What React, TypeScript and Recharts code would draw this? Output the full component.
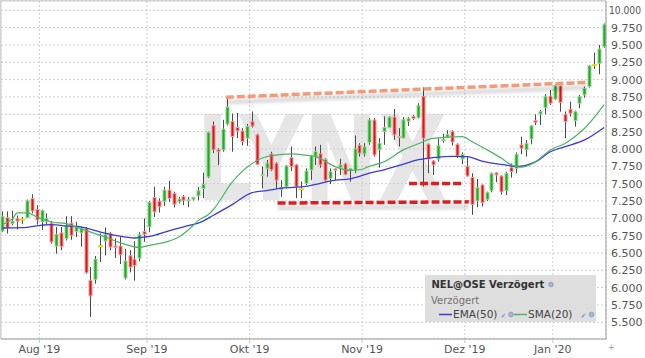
import { ComposedChart, Bar, Line, XAxis, YAxis, CartesianGrid, ReferenceLine } from 'recharts';

// daily candles, index 0 = 22 Jul 2019
const opens = [
	6.817, 7.01, 6.923, 6.995, 6.98, 7.01, 7.284, 7.13, 6.95, 6.957,
	6.93, 6.6, 6.79, 6.707, 6.93, 6.81, 6.79, 6.85, 6.106, 6.12,
	6.596, 6.673, 6.78, 6.6, 6.6, 6.14, 6.46, 6.41, 6.426, 6.81,
	6.876, 7.3, 7.247, 7.247, 7.407, 7.36, 7.238, 7.31, 7.257, 7.276,
	7.325, 7.43, 7.6, 8.34, 7.99, 7.987, 8.36, 8.397, 8.31, 8.26,
	8.156, 8.397, 8.204, 7.62, 7.72, 7.93, 7.794, 7.417, 7.455, 7.875,
	7.77, 7.42, 7.503, 7.697, 7.89, 7.93, 7.85, 7.576, 7.712, 7.73,
	7.784, 7.687, 7.683, 8.054, 7.93, 8.093, 8.417, 7.996, 8.253, 8.31,
	8.46, 8.18, 8.16, 8.4, 8.47, 8.45, 8.754, 8.07, 7.826, 7.855,
	8.12, 8.17, 8.25, 8.067, 7.855, 7.75, 7.59, 7.25, 7.48, 7.274,
	7.398, 7.655, 7.61, 7.4, 7.73, 7.72, 8.058, 7.99, 8.144, 8.413,
	8.505, 8.596, 8.764, 8.72, 8.91, 8.5, 8.572, 8.409, 8.66, 8.779,
	8.899, 9.21, 9.236, 9.476,
];
const highs = [
	7.1, 7.1, 7.11, 7.04, 7.02, 7.27, 7.346, 7.19, 7.125, 7.07,
	6.96, 6.875, 6.875, 7.03, 7.03, 6.95, 6.875, 6.875, 6.298, 6.457,
	6.78, 6.867, 6.8, 6.71, 6.73, 6.56, 6.54, 6.67, 6.8, 7.0,
	7.247, 7.455, 7.286, 7.455, 7.54, 7.383, 7.31, 7.335, 7.306, 7.31,
	7.455, 7.66, 8.25, 8.397, 8.01, 8.42, 8.735, 8.51, 8.52, 8.3,
	8.36, 8.54, 8.22, 7.745, 7.84, 7.96, 7.81, 7.55, 7.77, 8.035,
	7.78, 7.53, 7.72, 7.914, 8.035, 8.06, 7.866, 7.72, 7.72, 7.856,
	7.8, 7.72, 8.194, 8.083, 8.083, 8.446, 8.446, 8.156, 8.47, 8.47,
	8.576, 8.3, 8.46, 8.46, 8.49, 8.66, 8.89, 8.08, 7.84, 8.154,
	8.22, 8.27, 8.27, 8.08, 7.95, 7.88, 7.65, 7.567, 7.49, 7.385,
	7.66, 7.66, 7.62, 7.673, 7.79, 7.95, 8.178, 8.13, 8.346, 8.5,
	8.563, 8.79, 8.85, 8.93, 8.913, 8.54, 8.683, 8.553, 8.779, 8.899,
	9.21, 9.39, 9.5, 9.81,
];
const lows = [
	6.8, 6.78, 6.9, 6.84, 6.92, 7.0, 7.07, 6.91, 6.83, 6.91,
	6.635, 6.49, 6.54, 6.68, 6.69, 6.73, 6.59, 6.2, 5.577, 6.058,
	6.37, 6.465, 6.54, 6.43, 6.34, 6.117, 6.22, 6.1, 6.38, 6.66,
	6.8, 7.02, 7.083, 7.18, 7.238, 7.156, 7.214, 7.19, 7.16, 7.257,
	7.26, 7.29, 7.58, 7.94, 7.77, 7.96, 8.34, 7.96, 8.156, 8.05,
	8.045, 8.31, 7.77, 7.43, 7.6, 7.68, 7.43, 7.31, 7.43, 7.68,
	7.29, 7.29, 7.48, 7.55, 7.77, 7.73, 7.53, 7.494, 7.55, 7.625,
	7.62, 7.528, 7.65, 7.89, 7.89, 8.06, 7.89, 7.73, 8.06, 8.3,
	8.132, 8.035, 8.15, 8.33, 8.42, 8.44, 7.456, 7.65, 7.625, 7.816,
	8.09, 8.16, 8.05, 7.87, 7.78, 7.6, 7.05, 7.16, 7.17, 7.25,
	7.375, 7.52, 7.34, 7.336, 7.587, 7.65, 7.923, 7.89, 8.067, 8.346,
	8.346, 8.5, 8.635, 8.707, 8.538, 8.154, 8.466, 8.322, 8.587, 8.74,
	8.885, 9.154, 9.077, 9.46,
];
const closes = [
	7.029, 6.865, 6.957, 6.96, 6.98, 7.25, 7.106, 6.976, 7.11, 7.0,
	6.66, 6.77, 6.59, 6.9, 6.755, 6.875, 6.85, 6.216, 5.88, 6.41,
	6.596, 6.77, 6.586, 6.58, 6.475, 6.383, 6.296, 6.32, 6.764, 6.77,
	7.228, 7.093, 7.165, 7.407, 7.286, 7.204, 7.277, 7.262, 7.267, 7.3,
	7.397, 7.49, 8.238, 7.987, 7.96, 8.286, 8.605, 8.18, 8.26, 8.107,
	8.325, 8.33, 7.78, 7.63, 7.794, 7.7, 7.55, 7.446, 7.755, 7.745,
	7.455, 7.42, 7.682, 7.9, 7.963, 7.77, 7.55, 7.673, 7.692, 7.77,
	7.634, 7.716, 8.0, 7.94, 8.03, 8.417, 7.914, 8.083, 8.31, 8.46,
	8.204, 8.166, 8.42, 8.44, 8.44, 8.624, 8.154, 7.855, 7.77, 8.047,
	8.14, 8.21, 8.1, 7.9, 7.92, 7.61, 7.2, 7.44, 7.225, 7.37,
	7.643, 7.626, 7.38, 7.65, 7.673, 7.923, 8.01, 8.077, 8.332, 8.385,
	8.54, 8.755, 8.66, 8.913, 8.673, 8.394, 8.514, 8.538, 8.755, 8.875,
	9.197, 9.21, 9.442, 9.798,
];

// indicator values at sample days
const ema50 = [
	{ i: 0, v: 6.86 }, { i: 4, v: 6.865 }, { i: 8, v: 6.9 }, { i: 10, v: 6.91 },
	{ i: 13, v: 6.89 }, { i: 16, v: 6.875 }, { i: 20, v: 6.8 }, { i: 23, v: 6.755 },
	{ i: 27, v: 6.716 }, { i: 29, v: 6.73 }, { i: 31, v: 6.755 }, { i: 34, v: 6.82 },
	{ i: 37, v: 6.876 }, { i: 41, v: 6.96 }, { i: 43, v: 7.04 }, { i: 47, v: 7.2 },
	{ i: 51, v: 7.37 }, { i: 54, v: 7.4 }, { i: 57, v: 7.435 }, { i: 62, v: 7.46 },
	{ i: 64, v: 7.49 }, { i: 68, v: 7.55 }, { i: 71, v: 7.57 }, { i: 75, v: 7.65 },
	{ i: 78, v: 7.7 }, { i: 82, v: 7.78 }, { i: 85, v: 7.845 }, { i: 88, v: 7.875 },
	{ i: 92, v: 7.894 }, { i: 95, v: 7.888 }, { i: 98, v: 7.825 }, { i: 103, v: 7.767 },
	{ i: 105, v: 7.745 }, { i: 109, v: 7.817 }, { i: 112, v: 7.96 }, { i: 115, v: 8.034 },
	{ i: 119, v: 8.13 }, { i: 123, v: 8.31 },
];
const sma20 = [
	{ i: 0, v: 6.91 }, { i: 2, v: 6.995 }, { i: 3, v: 7.077 }, { i: 5, v: 7.077 },
	{ i: 7, v: 7.02 }, { i: 10, v: 6.947 }, { i: 13, v: 6.923 }, { i: 16, v: 6.85 },
	{ i: 18, v: 6.8 }, { i: 21, v: 6.73 }, { i: 24, v: 6.65 }, { i: 28, v: 6.58 },
	{ i: 30, v: 6.61 }, { i: 34, v: 6.67 }, { i: 36, v: 6.73 }, { i: 39, v: 6.9 },
	{ i: 40, v: 6.97 }, { i: 42, v: 7.05 }, { i: 43, v: 7.12 }, { i: 47, v: 7.528 },
	{ i: 51, v: 7.79 }, { i: 54, v: 7.89 }, { i: 59, v: 7.93 }, { i: 62, v: 7.91 },
	{ i: 64, v: 7.89 }, { i: 68, v: 7.745 }, { i: 71, v: 7.69 }, { i: 73, v: 7.7 },
	{ i: 75, v: 7.75 }, { i: 78, v: 7.815 }, { i: 82, v: 7.99 }, { i: 85, v: 8.075 },
	{ i: 88, v: 8.153 }, { i: 94, v: 8.177 }, { i: 96, v: 8.105 }, { i: 99, v: 7.99 },
	{ i: 102, v: 7.865 }, { i: 104, v: 7.77 }, { i: 106, v: 7.736 }, { i: 109, v: 7.817 },
	{ i: 112, v: 7.986 }, { i: 115, v: 8.08 }, { i: 119, v: 8.298 }, { i: 123, v: 8.64 },
];

// drawn trend lines (day index, price)
const resistance = [{ i: 45.6, v: 8.745 }, { i: 119.3, v: 8.96 }];
const supportLow = [{ i: 56.2, v: 7.22 }, { i: 95.3, v: 7.237 }];
const supportHigh = [{ i: 83.1, v: 7.5 }, { i: 94.1, v: 7.5 }];

const monthTicks = [7.5, 29.5, 50.5, 73.5, 94.5, 112.5];
const monthLabels = ["Aug '19", "Sep '19", "Okt '19", "Nov '19", "Dez '19", "Jan '20"];
const yTicks = [5.5, 5.75, 6, 6.25, 6.5, 6.75, 7, 7.25, 7.5, 7.75, 8, 8.25, 8.5, 8.75, 9, 9.25, 9.5, 9.75, 10];

const candles = opens.map((o, i) => ({
	i,
	open: o,
	high: highs[i],
	low: lows[i],
	close: closes[i],
	range: [lows[i], highs[i]],
}));

const FONT = '"DejaVu Sans", Verdana, sans-serif';
const GREEN = '#1faa1f';
const RED = '#dd1515';
const BLUE = '#3a3adc';
const SMA_GREEN = '#4cb464';

const Candle = (props: any) => {
	const { x, y, width, height, payload } = props;
	const { open, close, high, low } = payload;
	const top = Math.min(y, y + height);
	const span = Math.abs(height);
	const toY = (v: number) => top + ((high - v) / (high - low || 1)) * span;
	const cx = Math.round(x + width / 2) + 0.5;
	const yO = toY(open);
	const yC = toY(close);
	const wick = <line x1={cx} x2={cx} y1={toY(high)} y2={toY(low)} stroke='#4a4a4a' strokeWidth={1} />;
	if (open === close) {
		return (
			<g>
				{wick}
				<rect x={cx - 2.5} y={yO - 1} width={5} height={2} fill='#e6dc00' />
			</g>
		);
	}
	const up = close > open;
	return (
		<g>
			{wick}
			<rect
				x={cx - 1.5}
				y={Math.min(yO, yC)}
				width={3}
				height={Math.max(Math.abs(yO - yC), 1)}
				fill={up ? GREEN : RED}
				stroke={up ? '#93d893' : '#f2a0a0'}
				strokeWidth={1}
			/>
		</g>
	);
};

const PriceTick = (props: any) => {
	const { x, y, payload } = props;
	const label = payload.value.toFixed(3);
	// the widest label would run past the right edge, so it is squeezed in
	if (label.length > 5) {
		return (
			<text x={x - 2} y={y} dy={3.6} fill='#555' fontSize={10} fontFamily={FONT} textLength={32} lengthAdjust='spacingAndGlyphs'>
				{label}
			</text>
		);
	}
	return (
		<text x={x} y={y} dy={3.9} fill='#555' fontSize={11} fontFamily={FONT} textAnchor='start'>
			{label}
		</text>
	);
};

const trendShape = (color: string) => (props: any) => {
	const { x1, y1, x2, y2 } = props;
	return (
		<g>
			<line
				x1={x1}
				y1={y1 + 5}
				x2={x2}
				y2={y2 + 5}
				stroke='#000'
				strokeOpacity={0.13}
				strokeWidth={5}
				filter='url(#trendBlur)'
			/>
			<line x1={x1} y1={y1} x2={x2} y2={y2} stroke={color} strokeWidth={3.5} strokeDasharray='8 3' />
		</g>
	);
};

const seg = (pts: { i: number; v: number }[]) => pts.map((p) => ({ x: p.i, y: p.v }));

export default function App() {
	return (
		<div style={{ position: 'relative', width: 645, height: 358, fontFamily: FONT }}>
			<style>{'body{margin:0}'}</style>
			<svg width={645} height={358} style={{ position: 'absolute', left: 0, top: 0 }}>
				<defs>
					<filter id='trendBlur' x='-5%' y='-200%' width='110%' height='500%'>
						<feGaussianBlur stdDeviation='1.5' />
					</filter>
				</defs>
				<text
					x={196}
					y={200}
					fontFamily={FONT}
					fontWeight={700}
					fontSize={118}
					fill='#e6e6e6'
					textLength={251}
					lengthAdjust='spacingAndGlyphs'
				>
					LYNX
				</text>
				<line x1={0.5} y1={0} x2={0.5} y2={339} stroke='#d6d6d6' strokeWidth={2} />
				<line x1={0} y1={0.5} x2={606} y2={0.5} stroke='#d6d6d6' strokeWidth={2} />
			</svg>
			<div style={{ position: 'absolute', left: 0, top: 0 }}>
				<ComposedChart width={645} height={358} data={candles} margin={{ top: 1, right: 0, bottom: 0, left: 1 }}>
					<CartesianGrid stroke='#cdcdcd' strokeDasharray='2 2' />
					<XAxis
						type='number'
						dataKey='i'
						domain={[-0.35, 123.37]}
						allowDataOverflow
						ticks={monthTicks}
						interval={0}
						tickFormatter={(v: number) => monthLabels[monthTicks.indexOf(v)]}
						height={19}
						tickSize={4}
						tickMargin={2}
						axisLine={{ stroke: '#9a9a9a' }}
						tickLine={{ stroke: '#c8c8c8' }}
						tick={{ fill: '#555', fontSize: 11, fontFamily: FONT }}
					/>
					<YAxis
						orientation='right'
						domain={[5.259, 10.134]}
						allowDataOverflow
						ticks={yTicks}
						interval={0}
						width={39}
						tickSize={3}
						tickMargin={2}
						tickLine={false}
						axisLine={{ stroke: '#9a9a9a' }}
						tick={PriceTick}
					/>
					<ReferenceLine segment={seg(resistance)} shape={trendShape('#f39a78')} />
					<ReferenceLine segment={seg(supportLow)} shape={trendShape('#dc1e1e')} />
					<ReferenceLine segment={seg(supportHigh)} shape={trendShape('#dc1e1e')} />
					<Bar dataKey='range' barSize={5} shape={Candle} isAnimationActive={false} />
					<Line
						data={ema50}
						dataKey='v'
						type='monotone'
						stroke={BLUE}
						strokeWidth={1.3}
						dot={false}
						activeDot={false}
						isAnimationActive={false}
					/>
					<Line
						data={sma20}
						dataKey='v'
						type='monotone'
						stroke={SMA_GREEN}
						strokeWidth={1.2}
						dot={false}
						activeDot={false}
						isAnimationActive={false}
					/>
				</ComposedChart>
			</div>
			<svg width={645} height={358} style={{ position: 'absolute', left: 0, top: 0, pointerEvents: 'none' }}>
				<rect x={425} y={275} width={171} height={47} fill='#dedede' />
				<text x={431.5} y={288} fontFamily={FONT} fontSize={10} fontWeight={700} fill='#333'>
					NEL@OSE Verzögert
				</text>
				<circle cx={551} cy={284.5} r={2.3} fill='#a9bbd2' stroke='#7d93b0' strokeWidth={0.8} />
				<text x={431} y={304} fontFamily={FONT} fontSize={10} fill='#737373'>
					Verzögert
				</text>
				<line x1={439} x2={452} y1={314.5} y2={314.5} stroke={BLUE} strokeWidth={1.5} />
				<text x={453} y={318} fontFamily={FONT} fontSize={10.5} fill='#444'>
					EMA(50)
				</text>
				<text x={500.5} y={317.5} fontFamily={FONT} fontSize={7} fill='#3d7bd6'>
					✓
				</text>
				<circle cx={511} cy={314.5} r={2.3} fill='#a9bbd2' stroke='#7d93b0' strokeWidth={0.8} />
				<line x1={514} x2={527} y1={314.5} y2={314.5} stroke={SMA_GREEN} strokeWidth={1.5} />
				<text x={528} y={318} fontFamily={FONT} fontSize={10.5} fill='#444'>
					SMA(20)
				</text>
				<text x={580.5} y={317.5} fontFamily={FONT} fontSize={7} fill='#3d7bd6'>
					✓
				</text>
				<circle cx={591.5} cy={314.5} r={2.3} fill='#a9bbd2' stroke='#7d93b0' strokeWidth={0.8} />
				<text x={608} y={350} fontFamily={FONT} fontSize={8} fill='#999'>
					+
				</text>
			</svg>
		</div>
	);
}
